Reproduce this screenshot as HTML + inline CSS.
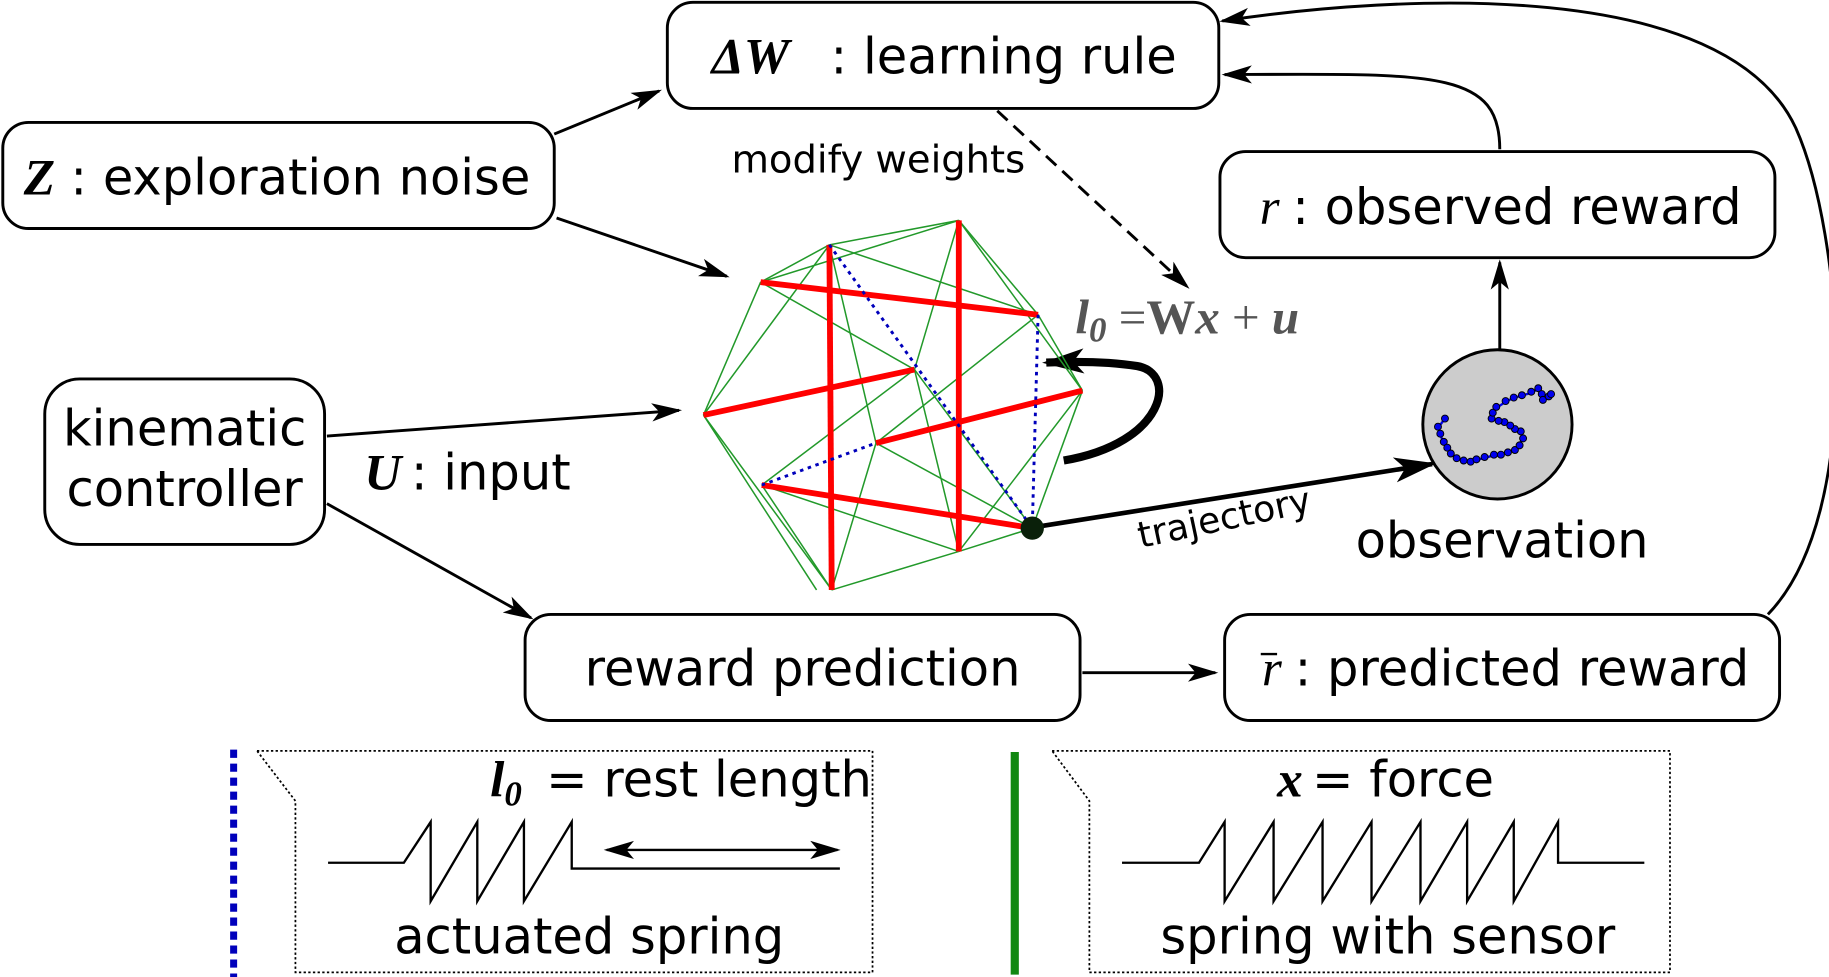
<!DOCTYPE html>
<html><head><style>html,body{margin:0;padding:0;background:#fff}svg{display:block}</style></head><body>
<svg width="1829" height="977" viewBox="0 0 1568 838" xmlns="http://www.w3.org/2000/svg" font-family="DejaVu Sans, Liberation Sans, sans-serif">
<defs>
<marker id="ar" viewBox="0 0 20 12" refX="18" refY="6" markerWidth="26" markerHeight="16" markerUnits="userSpaceOnUse" orient="auto-start-reverse"><path d="M0,0 L20,6 L0,12 L5,6 Z" fill="#000"/></marker>
<marker id="arb" viewBox="0 0 20 12" refX="18" refY="6" markerWidth="36" markerHeight="22" markerUnits="userSpaceOnUse" orient="auto"><path d="M0,0 L20,6 L0,12 L5,6 Z" fill="#000"/></marker>
</defs>
<g fill="none" stroke="#000" stroke-width="2.5">
<rect x="572" y="2" width="473" height="91" rx="22"/>
<rect x="2" y="105" width="473" height="91" rx="22"/>
<rect x="1046" y="130" width="476" height="91" rx="22"/>
<rect x="38" y="325" width="240" height="142" rx="30"/>
<rect x="450" y="527" width="476" height="91" rx="22"/>
<rect x="1050" y="527" width="476" height="91" rx="22"/>
</g>
<g font-size="42.5" fill="#000">
<text x="610" y="63" font-family="Liberation Serif, serif" font-weight="bold" font-style="italic" font-size="44">ΔW</text><text x="712" y="63">: learning rule</text>
<text x="20" y="167" font-family="Liberation Serif, serif" font-weight="bold" font-style="italic" font-size="44">Z</text><text x="60" y="167">: exploration noise</text>
<text x="1080" y="192" font-family="Liberation Serif, serif" font-style="italic" font-size="44">r</text><text x="1108" y="192">: observed reward</text>
<text x="158" y="382" text-anchor="middle">kinematic</text>
<text x="158" y="434" text-anchor="middle">controller</text>
<text x="312" y="420" font-family="Liberation Serif, serif" font-weight="bold" font-style="italic" font-size="44">U</text><text x="352" y="420">: input</text>
<text x="688" y="588" text-anchor="middle">reward prediction</text>
<text x="1082" y="588" font-family="Liberation Serif, serif" font-style="italic" font-size="44">r</text><text x="1110" y="588">: predicted reward</text>
<line x1="1081" y1="561" x2="1095" y2="561" stroke="#000" stroke-width="2"/>
<text x="1288" y="478" text-anchor="middle">observation</text>
</g>
<text x="627" y="148" font-size="33">modify weights</text>
<text x="978" y="470" font-size="31" transform="rotate(-12 978 470)">trajectory</text>
<text x="922" y="286" font-size="42" fill="#555" font-family="Liberation Serif, serif" font-weight="bold" font-style="italic">l<tspan font-size="30" dy="7">0</tspan><tspan dy="-7" font-weight="normal" font-style="normal"> =</tspan><tspan font-style="normal">W</tspan>x<tspan font-weight="normal" font-style="normal"> + </tspan>u</text>
<!-- arrows -->
<g stroke="#000" stroke-width="2.5" fill="none">
<line x1="475" y1="115" x2="565" y2="78" marker-end="url(#ar)"/>
<line x1="477" y1="187" x2="623" y2="237" marker-end="url(#ar)"/>
<line x1="280" y1="374" x2="582" y2="352" marker-end="url(#ar)"/>
<line x1="280" y1="432" x2="455" y2="530" marker-end="url(#ar)"/>
<line x1="928" y1="577" x2="1042" y2="577" marker-end="url(#ar)"/>
<line x1="1286" y1="300" x2="1286" y2="225" marker-end="url(#ar)"/>
<path d="M1286,128 C1286,60 1230,63 1050,64" marker-end="url(#ar)"/>
<path d="M1516,527 C1600,440 1580,200 1540,110 C1480,-20 1200,-5 1048,18" marker-end="url(#ar)"/>
<line x1="855" y1="95" x2="1018" y2="246" stroke-dasharray="12,7" marker-end="url(#ar)"/>
<line x1="888" y1="452" x2="1228" y2="398" stroke-width="4" marker-end="url(#arb)"/>
<path d="M912,395 C1000,380 1010,320 975,314 C950,310 920,310 897,311" stroke-width="7" marker-end="url(#arb)"/>
</g>
<!-- network -->
<g stroke="#22992a" stroke-width="1.3">
<line x1="711" y1="210" x2="652" y2="242"/><line x1="711" y1="210" x2="822" y2="189"/><line x1="652" y1="242" x2="822" y2="189"/>
<line x1="711" y1="210" x2="603" y2="356"/><line x1="652" y1="242" x2="603" y2="356"/><line x1="652" y1="242" x2="784" y2="317"/>
<line x1="711" y1="210" x2="890" y2="270"/><line x1="822" y1="189" x2="890" y2="270"/><line x1="822" y1="189" x2="928" y2="335"/>
<line x1="890" y1="270" x2="928" y2="335"/><line x1="711" y1="210" x2="751" y2="380"/><line x1="822" y1="189" x2="784" y2="317"/>
<line x1="603" y1="356" x2="713" y2="506"/><line x1="603" y1="356" x2="700" y2="506"/><line x1="653" y1="416" x2="713" y2="506"/>
<line x1="713" y1="506" x2="822" y2="473"/><line x1="822" y1="473" x2="885" y2="453"/><line x1="885" y1="453" x2="928" y2="335"/>
<line x1="751" y1="380" x2="885" y2="453"/><line x1="784" y1="317" x2="822" y2="473"/><line x1="784" y1="317" x2="653" y2="416"/>
<line x1="751" y1="380" x2="713" y2="506"/><line x1="653" y1="416" x2="822" y2="473"/><line x1="890" y1="270" x2="751" y2="380"/>
<line x1="784" y1="317" x2="885" y2="453"/><line x1="928" y1="335" x2="822" y2="473"/>
</g>
<g stroke="#ff0000" stroke-width="5">
<line x1="652" y1="242" x2="890" y2="270"/><line x1="822" y1="189" x2="822" y2="473"/><line x1="711" y1="210" x2="713" y2="506"/>
<line x1="603" y1="356" x2="784" y2="317"/><line x1="751" y1="380" x2="928" y2="335"/><line x1="653" y1="416" x2="885" y2="453"/>
</g>
<g stroke="#0000bb" stroke-width="2.5" stroke-dasharray="3,4">
<line x1="711" y1="210" x2="885" y2="453"/><line x1="890" y1="270" x2="885" y2="453"/><line x1="653" y1="416" x2="751" y2="380"/>
</g>
<circle cx="885" cy="453" r="10" fill="#0a200a"/>
<!-- observation -->
<circle cx="1284" cy="364" r="64" fill="#cccccc" stroke="#000" stroke-width="2.5"/>
<g fill="#0000ee" stroke="#000" stroke-width="0.8">
<polyline fill="none" stroke="#0000ee" stroke-width="2" points="1239,359 1233,367 1237,378 1244,389 1252,394 1260,396 1272,393 1283,390 1294,388 1302,384 1306,374 1301,369 1297,367 1292,363 1286,361 1279,359 1280,354 1283,350 1292,344 1299,341 1306,339 1313,337 1320,333 1323,343 1330,339"/>
<circle cx="1239" cy="359" r="3"/><circle cx="1233" cy="366" r="3"/><circle cx="1235" cy="372" r="3"/><circle cx="1238" cy="379" r="3"/><circle cx="1241" cy="384" r="3"/><circle cx="1244" cy="389" r="3"/><circle cx="1249" cy="393" r="3"/><circle cx="1255" cy="395" r="3"/><circle cx="1261" cy="396" r="3"/><circle cx="1266" cy="394" r="3"/><circle cx="1273" cy="392" r="3"/><circle cx="1281" cy="390" r="3"/><circle cx="1287" cy="390" r="3"/><circle cx="1293" cy="388" r="3"/><circle cx="1299" cy="386" r="3"/><circle cx="1303" cy="382" r="3"/><circle cx="1306" cy="376" r="3"/><circle cx="1304" cy="370" r="3"/><circle cx="1299" cy="368" r="3"/><circle cx="1295" cy="365" r="3"/><circle cx="1290" cy="362" r="3"/><circle cx="1285" cy="361" r="3"/><circle cx="1279" cy="359" r="3"/><circle cx="1280" cy="354" r="3"/><circle cx="1283" cy="349" r="3"/><circle cx="1291" cy="344" r="3"/><circle cx="1298" cy="341" r="3"/><circle cx="1305" cy="339" r="3"/><circle cx="1313" cy="336" r="3"/><circle cx="1319" cy="333" r="3"/><circle cx="1322" cy="338" r="3"/><circle cx="1323" cy="343" r="3"/><circle cx="1328" cy="340" r="3"/><circle cx="1330" cy="338" r="3"/>
</g>
<!-- legend -->
<line x1="200" y1="643" x2="200" y2="838" stroke="#0000bb" stroke-width="6" stroke-dasharray="7,5"/>
<line x1="870" y1="645" x2="870" y2="836" stroke="#118811" stroke-width="7"/>
<g fill="none" stroke="#000" stroke-width="1.5" stroke-dasharray="2,2">
<path d="M220,644 L748,644 L748,834 L253,834 L253,687 Z"/>
<path d="M902,644 L1432,644 L1432,834 L934,834 L934,687 Z"/>
</g>
<g fill="none" stroke="#000" stroke-width="2">
<path d="M281,740 L346,740 L369,705 L369,773 L409,705 L409,773 L449,705 L449,773 L490,705 L490,745 L720,745"/>
<line x1="520" y1="729" x2="718" y2="729" marker-start="url(#ar)" marker-end="url(#ar)"/>
<path d="M962,740 L1028,740 L1050,705 L1050,773 L1092,705 L1092,773 L1134,705 L1134,773 L1176,705 L1176,773 L1218,705 L1218,773 L1258,705 L1258,773 L1298,705 L1298,773 L1336,705 L1336,740 L1410,740"/>
</g>
<g font-size="42.5">
<text x="420" y="683" font-family="Liberation Serif, serif" font-weight="bold" font-style="italic" font-size="44">l<tspan font-size="30" dy="8">0</tspan></text><text x="468" y="683">= rest length</text>
<text x="505" y="818" text-anchor="middle">actuated spring</text>
<text x="1095" y="683" font-family="Liberation Serif, serif" font-weight="bold" font-style="italic" font-size="44">x</text><text x="1125" y="683">= force</text>
<text x="1190" y="818" text-anchor="middle">spring with sensor</text>
</g>
</svg>
</body></html>
